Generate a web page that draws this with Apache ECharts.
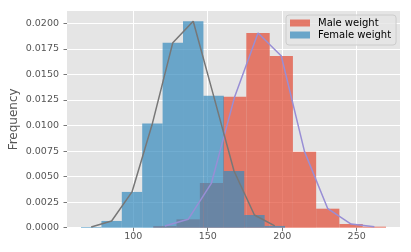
<!DOCTYPE html>
<html>
<head>
<meta charset="utf-8">
<script src="https://cdn.jsdelivr.net/npm/echarts@6/dist/echarts.min.js"></script>
<style>
html,body{margin:0;padding:0;background:#fff;}
#chart{width:411px;height:252px;}
</style>
</head>
<body>
<div id="chart"></div>
<script>
// Histogram bin edges and densities
var maleBinEdges = [113.4, 129.0, 144.7, 160.3, 175.9, 191.6, 207.2, 222.8, 238.4, 254.1, 269.7];
var maleDensity = [0.00017, 0.00082, 0.00437, 0.01282, 0.01905, 0.0168, 0.00744, 0.00186, 0.00036, 0.0001];
var femaleBinEdges = [64.9, 78.6, 92.3, 106.0, 119.7, 133.4, 147.1, 160.8, 174.5, 188.2, 201.9];
var femaleDensity = [0.00007, 0.00066, 0.0035, 0.0102, 0.0181, 0.0202, 0.0129, 0.00555, 0.00124, 0.00017];
var xTicks = [100, 150, 200, 250];
var yTicks = [0, 0.0025, 0.005, 0.0075, 0.01, 0.0125, 0.015, 0.0175, 0.02];
var legendNames = ['Male weight', 'Female weight'];

function binRects(edges, dens) {
  var out = [];
  for (var i = 0; i < dens.length; i++) out.push([edges[i], edges[i + 1], dens[i]]);
  return out;
}
function binCurve(edges, dens) {
  var out = [];
  for (var i = 0; i < dens.length; i++) out.push([(edges[i] + edges[i + 1]) / 2, dens[i]]);
  return out;
}
function histRender(fill) {
  return function (params, api) {
    var p0 = api.coord([api.value(0), api.value(2)]);
    var p1 = api.coord([api.value(1), 0]);
    return {
      type: 'rect',
      shape: { x: p0[0], y: p0[1], width: p1[0] - p0[0], height: p1[1] - p0[1] },
      style: { fill: fill }
    };
  };
}

var maleFill = 'rgba(226,74,51,0.7)';
var femaleFill = 'rgba(52,138,189,0.7)';
var font = 'DejaVu Sans';

var chart = echarts.init(document.getElementById('chart'), null, { renderer: 'canvas' });
chart.setOption({
  animation: false,
  textStyle: { fontFamily: font },
  grid: {
    left: 67, right: 11, top: 11, bottom: 24.3,
    containLabel: false, outerBoundsMode: 'none',
    show: true, backgroundColor: '#E5E5E5', borderWidth: 0
  },
  legend: {
    data: legendNames.map(function (n) { return { name: n, icon: 'rect' }; }),
    orient: 'vertical',
    left: 286, top: 15,
    itemWidth: 20, itemHeight: 7, itemGap: 2,
    padding: [3, 5, 5, 4],
    backgroundColor: 'rgba(229,229,229,0.8)',
    borderColor: '#CCCCCC', borderWidth: 1, borderRadius: 3,
    textStyle: { fontFamily: font, fontSize: 10, color: '#000', padding: [0, 0, 0, 3] }
  },
  xAxis: {
    type: 'value', min: 55.5, max: 279.1,
    axisLine: { show: false },
    axisTick: { show: true, length: 3.5, customValues: xTicks, lineStyle: { color: '#555555', width: 0.8 } },
    axisLabel: { customValues: xTicks, margin: 4, color: '#555555', fontSize: 9.5, fontFamily: font },
    splitLine: { show: true, lineStyle: { color: '#FFFFFF', width: 1 } }
  },
  yAxis: {
    type: 'value', min: 0, max: 0.0212,
    name: 'Frequency', nameLocation: 'middle', nameGap: 47, nameMoveOverlap: false,
    nameTextStyle: { color: '#555555', fontSize: 12, fontFamily: font },
    axisLine: { show: false },
    axisTick: { show: true, length: 3.5, customValues: yTicks, lineStyle: { color: '#555555', width: 0.8 } },
    axisLabel: {
      customValues: yTicks, margin: 8, color: '#555555', fontSize: 9.5, fontFamily: font,
      formatter: function (v) { return v.toFixed(4); }
    },
    splitLine: { show: true, lineStyle: { color: '#FFFFFF', width: 1 } }
  },
  series: [
    {
      name: legendNames[0], type: 'custom', renderItem: histRender(maleFill),
      itemStyle: { color: maleFill }, encode: { x: [0, 1], y: 2 },
      data: binRects(maleBinEdges, maleDensity), z: 2
    },
    {
      name: legendNames[1], type: 'custom', renderItem: histRender(femaleFill),
      itemStyle: { color: femaleFill }, encode: { x: [0, 1], y: 2 },
      data: binRects(femaleBinEdges, femaleDensity), z: 3
    },
    {
      name: 'male curve', type: 'line', symbol: 'none', silent: true,
      lineStyle: { color: '#988ED5', width: 1.5 },
      data: binCurve(maleBinEdges, maleDensity), z: 4
    },
    {
      name: 'female curve', type: 'line', symbol: 'none', silent: true,
      lineStyle: { color: '#777777', width: 1.5 },
      data: binCurve(femaleBinEdges, femaleDensity), z: 5
    }
  ]
});
</script>
</body>
</html>
